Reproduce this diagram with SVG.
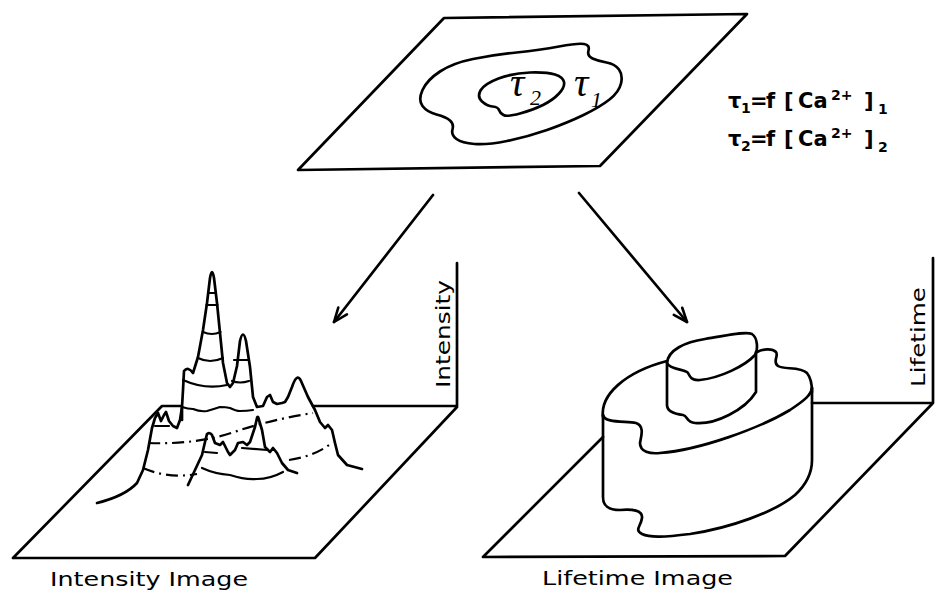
<svg xmlns="http://www.w3.org/2000/svg" width="935" height="594" viewBox="0 0 935 594">
  <style>
    .ln { fill: none; stroke: #000; stroke-width: 2.7; stroke-linejoin: round; stroke-linecap: round; }
    .thin { fill: none; stroke: #000; stroke-width: 2.2; stroke-linejoin: round; stroke-linecap: round; }
    .dd { fill: none; stroke: #000; stroke-width: 2.2; stroke-dasharray: 12 5 2 5; stroke-linecap: butt; }
    .lbl { font-family: "DejaVu Sans", "Liberation Sans", sans-serif; font-size: 19px; fill: #000; }
    .eq { font-family: "DejaVu Sans", "Liberation Sans", sans-serif; font-weight: bold; font-size: 21px; fill: #000; }
    .eqs { font-family: "DejaVu Sans", "Liberation Sans", sans-serif; font-weight: bold; font-size: 14px; fill: #000; }
    .tau { font-family: "Liberation Serif", "DejaVu Serif", serif; font-style: italic; font-size: 40px; fill: #000; }
    .taus { font-family: "Liberation Serif", "DejaVu Serif", serif; font-style: italic; font-size: 22px; fill: #000; }
  </style>
  <defs>
    <marker id="head" viewBox="0 0 16 12" refX="15" refY="6" markerWidth="16" markerHeight="12" markerUnits="userSpaceOnUse" orient="auto" overflow="visible">
      <path d="M1,0.5 L15,6 L1,11.5" fill="none" stroke="#000" stroke-width="2.6" stroke-linejoin="round" stroke-linecap="round"/>
    </marker>
  </defs>
  <rect width="935" height="594" fill="#fff"/>

  <!-- calcium map: plane with two lifetime regions -->
  <g id="source-plane">
    <path class="ln" d="M298,170 L444,18 L747,14 L600,166 Z"/>
    <path class="ln" d="M422.5,106 Q418,100 422.5,90 T440,71.5 T473,59 T516.5,52.5 T559,46.5 T584,44 T588.5,50.5 T592.5,58.5 T606.5,62.5 T619,69.5 T621,83.5 T609.5,99.5 T583.5,115 T547,130 T507,141 T474.5,144 T456.5,139 T452.5,129.5 T450,120.5 T436.5,114.5 T422.5,106 Z"/>
    <path class="ln" d="M482,101.5 Q477,97 480.5,90.5 T498.5,78.5 T530,72.5 T555,74.5 T564,82 T559,93.5 T543,105 T520,113.5 T503.5,115 T499,110 T492.5,106.5 T482,101.5 Z"/>
    <text class="tau" x="510" y="96">τ</text>
    <text class="taus" x="530" y="105">2</text>
    <text class="tau" x="574" y="96">τ</text>
    <text class="taus" x="591" y="107">1</text>
  </g>

  <g id="formula">
    <text class="eq" x="728" y="108">τ</text>
    <text class="eqs" x="741" y="113">1</text>
    <text class="eq" x="750" y="108">=</text>
    <text class="eq" x="766" y="108">f</text>
    <text class="eq" x="784" y="108">[</text>
    <text class="eq" x="798" y="108">Ca</text>
    <text class="eqs" x="831" y="100">2+</text>
    <text class="eq" x="864" y="108">]</text>
    <text class="eqs" x="878" y="114">1</text>

    <text class="eq" x="728" y="146">τ</text>
    <text class="eqs" x="741" y="151">2</text>
    <text class="eq" x="750" y="146">=</text>
    <text class="eq" x="766" y="146">f</text>
    <text class="eq" x="784" y="146">[</text>
    <text class="eq" x="798" y="146">Ca</text>
    <text class="eqs" x="831" y="138">2+</text>
    <text class="eq" x="864" y="146">]</text>
    <text class="eqs" x="878" y="152">2</text>
  </g>

  <g id="connectors">
    <line class="ln" x1="433" y1="195" x2="334" y2="322" marker-end="url(#head)"/>
    <line class="ln" x1="579" y1="193" x2="687" y2="322" marker-end="url(#head)"/>
  </g>

  <!-- intensity surface over the image plane -->
  <g id="intensity-image">
    <path class="ln" d="M13,558 L162,406 L181,406 M313,406 L457,406 L457,263 M457,407 L315,558 L13,558"/>
    <!-- central block with the two tall peaks -->
    <path class="ln" d="M182,420 L182,407 L183,390 L184,371 Q188,366 193,373 L198,357 L203,330 L207,303 L210,278 Q212,266 214,278 L217,303 L220,333 L223,363 L227,383 L230,387 L233,383 L237,366 L240,341 Q243,328 246,341 L250,367 L253,397 L257,407 L263,406 L267,397 L270,395 L273,402 L277,404 L282,403 L285,402 L288,397 L292,387 Q297,372 301,381 L308,397 L315,410 L320,422 L325,428 L328,425 L332,430 L335,443 L338,455 L347,465 L362,469"/>
    <path class="thin" d="M208,293 L216,293 M206.5,305 L217.5,305 M203,332 Q212,336 220.5,332 M198,358 Q210,364 223,358 M234,360 L248,360 M232,381 Q240,384 249,381"/>
    <path class="thin" d="M183,380 Q205,390 227,385"/>
    <path class="thin" d="M182,407 Q188,409 193,409 Q200,412 207,411 Q214,409 220,407 Q226,407 230,408 Q236,411 240,411 Q247,411 253,410"/>
    <!-- left group of small peaks -->
    <path class="ln" d="M97,503 Q125,496 137,483 L143,470 L148,450 L152,428 L155,418 L158,413 L161,421 L164,415 L166,412 L169,421 L173,426 L177,428 L180,420 L182,407"/>
    <path class="thin" d="M155,426 L169,426"/>
    <!-- front group of peaks -->
    <path class="ln" d="M188,485 L195,470 L202,455 L205,442 L207,434 Q210,432 212,435 L215,443 L220,445 L223,442 L228,452 L230,455 L235,450 L238,443 L243,442 L247,445 L250,442 L255,427 L257,418 Q258,415 259,420 L262,430 L265,447 L270,452 L273,448 L277,453 L282,463 L288,470 L297,473"/>
    <path class="thin" d="M205,452 L217,453 M242,448 L267,450"/>
    <path class="thin" d="M202,468 Q215,474 230,475 Q245,480 257,479 Q270,479 283,472"/>
    <!-- dash-dot level lines -->
    <path class="dd" d="M148,443 Q200,445 240,430 Q275,419 313,413"/>
    <path class="dd" d="M143,468 Q168,479 197,474"/>
    <path class="dd" d="M289,460 Q316,456 333,442"/>
    <text class="lbl" transform="translate(450,388) rotate(-90)" textLength="108" lengthAdjust="spacingAndGlyphs">Intensity</text>
    <text class="lbl" x="50" y="586" textLength="198" lengthAdjust="spacingAndGlyphs">Intensity Image</text>
  </g>

  <!-- lifetime steps over the image plane -->
  <g id="lifetime-image">
    <path class="ln" d="M603,437 L483,557 L785,556 L933,403 L933,258 M812,403 L933,403"/>
    <!-- lower step -->
    <path class="ln" d="M603,417 C600,395 625,372 667,361"/>
    <path class="ln" d="M757,352 C763,349 772,348 776,352 C779,356 772,362 778,366 C784,370 800,366 807,373 C811,378 812,385 812,392"/>
    <path class="ln" d="M603,415 C604,423 625,421 636,423 C645,426 641,437 640,443 C640,452 650,454 660,453 C700,450 760,428 790,410 C805,400 811,395 812,388"/>
    <path class="ln" d="M603,415 L603,497 C603,506 608,510 620,510 C632,509 643,510 642,518 C641,526 634,530 642,534 C650,538 665,537 690,534 C730,528 775,512 795,495 C808,483 812,472 812,460 L812,388"/>
    <!-- upper step -->
    <path class="ln" d="M667,363 C668,350 685,342 705,339 C725,336 745,331 752,334 C758,338 758,350 755,355 C745,366 720,378 700,380 C692,381 690,377 688,373 C686,369 670,370 667,363 Z"/>
    <path class="ln" d="M667,363 L667,405 C667,412 675,414 683,415 C688,416 686,422 695,423 C715,425 745,410 756,392 L756,352"/>
    <text class="lbl" transform="translate(925,387) rotate(-90)" textLength="100" lengthAdjust="spacingAndGlyphs">Lifetime</text>
    <text class="lbl" x="542" y="585" textLength="191" lengthAdjust="spacingAndGlyphs">Lifetime Image</text>
  </g>
</svg>
